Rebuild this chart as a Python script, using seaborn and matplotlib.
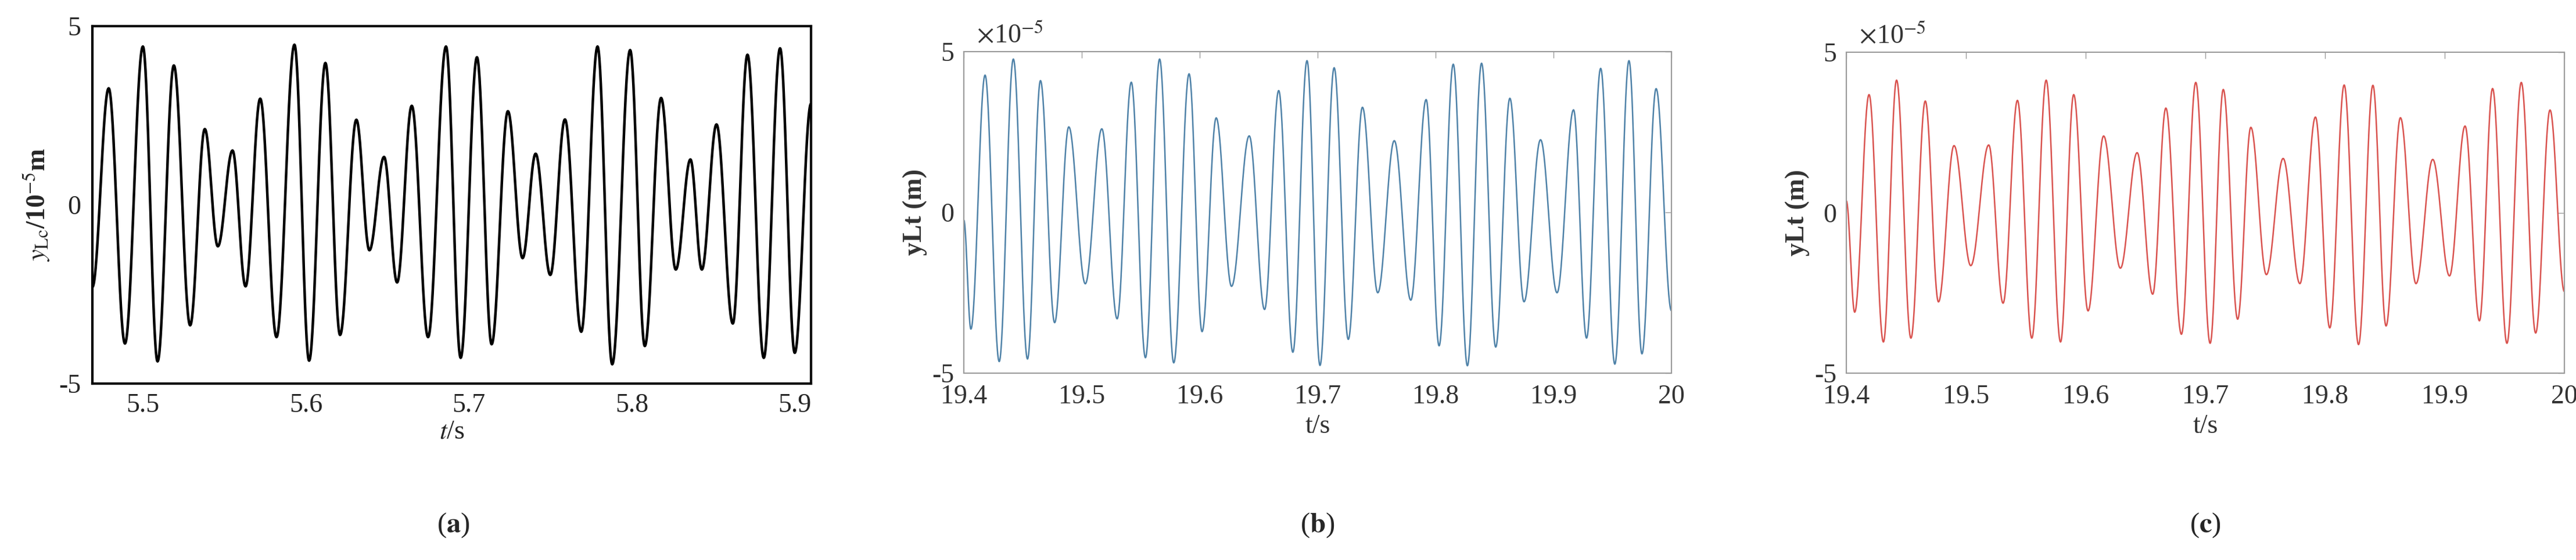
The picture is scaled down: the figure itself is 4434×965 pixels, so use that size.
import numpy as np
import pandas as pd
import matplotlib
matplotlib.use("Agg")
import matplotlib.pyplot as plt
import seaborn as sns

sns.set_theme(style="white")
plt.rcParams['font.family'] = ['Liberation Serif', 'DejaVu Serif']
plt.rcParams['mathtext.fontset'] = 'stix'

# extrema (time, value in 1e-5 m)
a_t = [5.469, 5.479, 5.489, 5.500, 5.509, 5.519, 5.529, 5.538, 5.546, 5.555, 5.563, 5.572, 5.582,
       5.593, 5.602, 5.612, 5.621, 5.631, 5.639, 5.648, 5.656, 5.665, 5.675, 5.686, 5.695, 5.705,
       5.714, 5.724, 5.733, 5.741, 5.750, 5.759, 5.769, 5.779, 5.788, 5.799, 5.808, 5.818, 5.827,
       5.836, 5.843, 5.852, 5.862, 5.871, 5.881, 5.891, 5.900, 5.910]
a_v = [-2.3, 3.26, -3.88, 4.43, -4.38, 3.90, -3.37, 2.12, -1.16, 1.52, -2.28, 2.97, -3.70,
       4.48, -4.36, 3.97, -3.64, 2.38, -1.27, 1.34, -2.17, 2.77, -3.70, 4.43, -4.28, 4.13,
       -3.90, 2.62, -1.49, 1.43, -1.96, 2.39, -3.55, 4.43, -4.46, 4.33, -3.95, 2.99, -1.81,
       1.27, -1.81, 2.25, -3.32, 4.20, -4.28, 4.38, -4.14, 2.83]

b_t = [19.400, 19.406, 19.418, 19.430, 19.442, 19.454, 19.465, 19.477, 19.489, 19.503, 19.517,
       19.530, 19.542, 19.554, 19.566, 19.578, 19.591, 19.602, 19.614, 19.627, 19.642, 19.655,
       19.667, 19.679, 19.691, 19.702, 19.714, 19.726, 19.738, 19.751, 19.765, 19.779, 19.792,
       19.803, 19.815, 19.827, 19.839, 19.851, 19.863, 19.875, 19.889, 19.903, 19.917, 19.928,
       19.940, 19.952, 19.964, 19.975, 19.987, 20.000]
b_v = [-0.24, -3.63, 4.27, -4.64, 4.77, -4.56, 4.10, -3.43, 2.66, -2.22, 2.60,
       -3.31, 4.05, -4.52, 4.77, -4.68, 4.31, -3.71, 2.94, -2.30, 2.38, -3.02,
       3.79, -4.35, 4.72, -4.76, 4.50, -3.95, 3.27, -2.50, 2.23, -2.73, 3.51,
       -4.15, 4.61, -4.77, 4.64, -4.19, 3.55, -2.78, 2.26, -2.50, 3.19, -3.91,
       4.48, -4.72, 4.72, -4.40, 3.85, -3.06]

c_t = [19.400, 19.407, 19.419, 19.431, 19.442, 19.454, 19.466, 19.477, 19.490, 19.504, 19.519,
       19.531, 19.543, 19.555, 19.567, 19.579, 19.590, 19.602, 19.615, 19.629, 19.643, 19.656,
       19.667, 19.680, 19.692, 19.704, 19.715, 19.727, 19.738, 19.751, 19.765, 19.779, 19.792,
       19.804, 19.816, 19.828, 19.840, 19.851, 19.863, 19.876, 19.890, 19.904, 19.917, 19.929,
       19.940, 19.952, 19.964, 19.976, 19.988, 20.000]
c_v = [0.37, -3.10, 3.68, -4.03, 4.13, -3.91, 3.48, -2.78, 2.09, -1.65, 2.11,
       -2.82, 3.50, -3.91, 4.13, -4.03, 3.68, -3.06, 2.39, -1.73, 1.87, -2.54,
       3.26, -3.79, 4.06, -4.07, 3.84, -3.32, 2.66, -1.93, 1.69, -2.21, 2.98,
       -3.59, 3.98, -4.11, 3.97, -3.53, 2.96, -2.21, 1.66, -1.97, 2.70, -3.37,
       3.87, -4.07, 4.06, -3.75, 3.20, -2.46]

def curve(ts, vs, n=40):
    T, V = [], []
    for i in range(len(ts) - 1):
        s = np.linspace(0, 1, n, endpoint=False)
        T.append(ts[i] + (ts[i+1] - ts[i]) * s)
        V.append(vs[i] + (vs[i+1] - vs[i]) * (1 - np.cos(np.pi * s)) / 2)
    T.append([ts[-1]]); V.append([vs[-1]])
    return pd.DataFrame({"t": np.concatenate(T), "y": np.concatenate(V)})

W, H = 4434, 965
fig = plt.figure(figsize=(W/100, H/100), dpi=100)
def box(l, r, t, b):
    return [l/W, 1-b/H, (r-l)/W, (b-t)/H]

fs = 33
# (a)
axa = fig.add_axes(box(159, 1396, 45, 661))
sns.lineplot(data=curve(a_t, a_v), x="t", y="y", ax=axa, color="black", lw=3.2, sort=False)
axa.set_xlim(5.469, 5.910); axa.set_ylim(-5, 5)
axa.set_xticks([5.5, 5.6, 5.7, 5.8, 5.9]); axa.set_yticks([-5, 0, 5])
axa.set_yticklabels(["-5", "0", "5"])
for s in axa.spines.values():
    s.set_linewidth(3); s.set_color("black")
axa.tick_params(axis='x', direction='in', length=12, width=2.5, labelsize=fs, pad=12)
axa.tick_params(axis='y', direction='in', length=0, labelsize=fs, pad=14)
axa.set_xlabel("$t$/s", fontsize=fs, labelpad=2)
axa.set_ylabel("$y_{\\mathrm{Lc}}$/10$^{-5}$m", fontsize=fs, fontweight='bold', labelpad=8)

def panel(box_, ts, vs, color):
    ax = fig.add_axes(box_)
    sns.lineplot(data=curve(ts, vs), x="t", y="y", ax=ax, color=color, lw=1.8, sort=False)
    ax.set_xlim(19.4, 20.0); ax.set_ylim(-5, 5)
    ax.set_xticks([19.4, 19.5, 19.6, 19.7, 19.8, 19.9, 20.0])
    ax.set_xticklabels(["19.4", "19.5", "19.6", "19.7", "19.8", "19.9", "20"])
    ax.set_yticks([-5, 0, 5]); ax.set_yticklabels(["-5", "0", "5"])
    for s in ax.spines.values():
        s.set_linewidth(1.5); s.set_color("#9a9a9a")
    ax.tick_params(direction='in', length=8, width=1, colors="#9a9a9a",
                   labelcolor="#333333", labelsize=fs, top=True, right=True)
    ax.tick_params(axis='x', pad=14)
    ax.tick_params(axis='y', pad=12)
    ax.set_xlabel("t/s", fontsize=fs, color="#333333", labelpad=6)
    ax.set_ylabel("yLt (m)", fontsize=fs, fontweight='bold', color="#333333", labelpad=6)
    ax.text(0.0, 1.01, "  $\\times$10$^{-5}$", transform=ax.transAxes, fontsize=fs,
            color="#333333", ha="left", va="bottom")
    return ax

panel(box(1659, 2877, 89, 643), b_t, b_v, "#4f82a8")
panel(box(3178, 4414, 90, 643), c_t, c_v, "#d9534f")

for x, lab in [(780, "a"), (2268, "b"), (3796, "c")]:
    fig.text(x/W, 1-905/H, "(" + r"$\mathbf{" + lab + "}$" + ")", fontsize=fs+2,
             ha="center", va="center")

fig.savefig("out.png", dpi=100, facecolor="white")
